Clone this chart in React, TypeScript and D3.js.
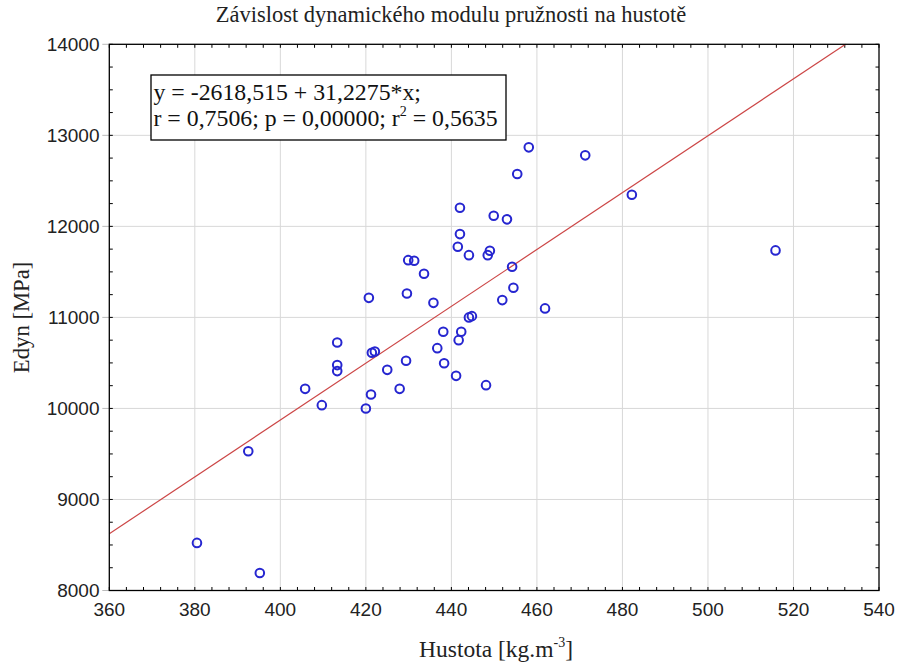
import React from "react";
import * as d3 from "d3";

const hustota = [
  380.5, 395.2, 392.5, 405.8, 409.7, 413.3, 413.3, 413.3, 420.0, 421.2,
  420.7, 421.4, 422.1, 425.0, 427.9, 429.4, 429.6, 429.9, 431.3, 433.6,
  435.8, 436.7, 438.1, 438.3, 441.1, 441.7, 442.3, 444.1, 444.8, 441.5,
  442.0, 442.0, 444.1, 448.1, 448.5, 449.0, 449.9, 451.9, 453.0, 454.2,
  454.5, 455.4, 458.1, 461.9, 471.3, 482.2, 515.8,
];
const edyn = [
  8523, 8193, 9530, 10215, 10036, 10725, 10476, 10410, 10000, 10153,
  11215, 10611, 10626, 10424, 10215, 10523, 11263, 11629, 11622, 11479,
  11160, 10662, 10842, 10497, 10358, 10750, 10842, 11000, 11014, 11776,
  11915, 12205, 11684, 10256, 11684, 11732, 12116, 11190, 12077, 11556,
  11325, 12575, 12868, 11099, 12780, 12347, 11736,
];
const xTicks = [360, 380, 400, 420, 440, 460, 480, 500, 520, 540];
const yTicks = [8000, 9000, 10000, 11000, 12000, 13000, 14000];
const intercept = -2618.515;
const slope = 31.2275;
const titleText = "Závislost dynamického modulu pružnosti na hustotě";
const xLabel = "Hustota [kg.m";
const yLabel = "Edyn [MPa]";
const eqLine1 = "y = -2618,515 + 31,2275*x;";
const eqLine2a = "r = 0,7506; p = 0,00000; r";
const eqLine2b = " = 0,5635";

export default function App() {
  const W = 902, H = 668;
  const L = 109.3, R = 879, T = 44.3, B = 590.5;
  const x = d3.scaleLinear().domain([360, 540]).range([L, R]);
  const y = d3.scaleLinear().domain([8000, 14000]).range([B, T]);
  const xMinor = d3.range(360, 540.01, 4);
  const yMinor = d3.range(8000, 14000.01, 250);
  const serif = "'Liberation Serif', 'Times New Roman', serif";
  const sans = "'Liberation Sans', Arial, sans-serif";
  const xEnd = (14000 - intercept) / slope;
  const line = d3.line<number>().x((v) => x(v)).y((v) => y(intercept + slope * v));
  const tickLen = 3.5;
  return (
    <svg width={W} height={H} style={{ position: "absolute", left: 0, top: 0, background: "#fff" }}>
      <rect x={0} y={0} width={W} height={H} fill="#fff" />
      {/* grid */}
      {xTicks.slice(1, -1).map((t) => (
        <line key={"gx" + t} x1={x(t)} x2={x(t)} y1={T} y2={B} stroke="#d8d8d8" strokeWidth={1} />
      ))}
      {yTicks.slice(1, -1).map((t) => (
        <line key={"gy" + t} x1={L} x2={R} y1={y(t)} y2={y(t)} stroke="#d8d8d8" strokeWidth={1} />
      ))}
      {/* minor ticks */}
      {xMinor.map((t) => (
        <g key={"mx" + t}>
          <line x1={x(t)} x2={x(t)} y1={B} y2={B - tickLen} stroke="#000" strokeWidth={1} />
          <line x1={x(t)} x2={x(t)} y1={T} y2={T + tickLen} stroke="#000" strokeWidth={1} />
        </g>
      ))}
      {yMinor.map((t) => (
        <g key={"my" + t}>
          <line x1={L} x2={L + tickLen} y1={y(t)} y2={y(t)} stroke="#000" strokeWidth={1} />
          <line x1={R} x2={R - tickLen} y1={y(t)} y2={y(t)} stroke="#000" strokeWidth={1} />
        </g>
      ))}
      {/* major ticks outward on left */}
      {yTicks.map((t) => (
        <line key={"My" + t} x1={L} x2={L - 7} y1={y(t)} y2={y(t)} stroke="#bbb" strokeWidth={1} />
      ))}
      {/* regression line */}
      <path d={line([360, xEnd]) || ""} fill="none" stroke="#cc4646" strokeWidth={1.2} />
      {/* points */}
      {hustota.map((h, i) => (
        <circle key={"p" + i} cx={x(h)} cy={y(edyn[i])} r={4.3} fill="none" stroke="#2626d0" strokeWidth={2} />
      ))}
      {/* frame */}
      <rect x={L} y={T} width={R - L} height={B - T} fill="none" stroke="#000" strokeWidth={1.3} />
      {/* tick labels */}
      {xTicks.map((t) => (
        <text key={"lx" + t} x={x(t)} y={615.5} textAnchor="middle" fontFamily={sans} fontSize={19} fill="#222">
          {t}
        </text>
      ))}
      {yTicks.map((t) => (
        <text key={"ly" + t} x={99.5} y={y(t) + 6.8} textAnchor="end" fontFamily={sans} fontSize={19} fill="#222">
          {t}
        </text>
      ))}
      {/* titles */}
      <text x={451} y={22} textAnchor="middle" fontFamily={serif} fontSize={22.5} fill="#222">
        {titleText}
      </text>
      <text x={496} y={656.5} textAnchor="middle" fontFamily={serif} fontSize={23.5} fill="#222">
        {xLabel}
        <tspan fontSize={14} dy={-10}>-3</tspan>
        <tspan dy={10}>]</tspan>
      </text>
      <text transform={`translate(29, ${(T + B) / 2}) rotate(-90)`} textAnchor="middle" fontFamily={serif} fontSize={22.7} fill="#222">
        {yLabel}
      </text>
      {/* equation box */}
      <rect x={151} y={75} width={355} height={65} fill="#fff" stroke="#000" strokeWidth={1.3} />
      <text x={153.5} y={100} fontFamily={serif} fontSize={23.8} fill="#111">{eqLine1}</text>
      <text x={153.5} y={126} fontFamily={serif} fontSize={23.8} fill="#111">
        {eqLine2a}
        <tspan fontSize={14} dy={-10}>2</tspan>
        <tspan dy={10}>{eqLine2b}</tspan>
      </text>
    </svg>
  );
}
